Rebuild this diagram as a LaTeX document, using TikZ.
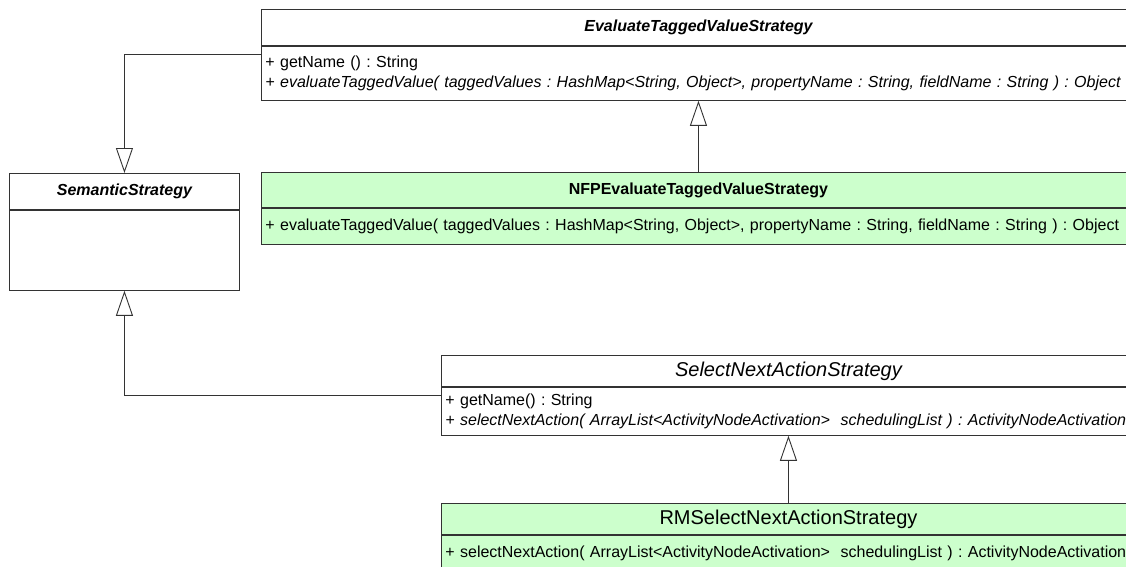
\documentclass[tikz,border=0pt]{standalone}
\usepackage{fontspec}
\setmainfont{Liberation Sans}
\frenchspacing
\usetikzlibrary{
  arrows.meta,
  positioning
}
\definecolor{umlline}{HTML}{333333}
\definecolor{umlgreen}{HTML}{CCFFCC}
\tikzset{
  classhead/.style={
    draw=umlline,
    line width=0.9pt,
    anchor=north west,
    inner sep=0pt,
    minimum height=36pt,
    font=\fontsize{16}{18}\selectfont\bfseries\itshape
  },
  classbody/.style={
    draw=umlline,
    line width=0.9pt,
    inner xsep=4pt,
    inner ysep=0pt,
    align=left,
    text width=#1,
    font=\fontsize{16}{19.5}\selectfont
  },
  concrete/.style={fill=umlgreen},
  inherit/.style={
    -{Triangle[open, length=25pt, width=17pt]},
    draw=umlline,
    line width=0.9pt
  }
}

\begin{document}
\begin{tikzpicture}[x=1pt, y=1pt]
  \useasboundingbox (0,0) rectangle (1126,-567);
  \clip (0,0) rectangle (1126,-567);

  \node[classhead, minimum width=230pt] (semhead) at (9,-173) {SemanticStrategy};
  \node[classbody=222pt, minimum height=80pt, below=0pt of semhead] (sembody) {};

  \node[classhead, minimum width=874pt] (evalhead) at (261,-9)
    {EvaluateTaggedValueStrategy};
  \node[classbody=866pt, minimum height=54pt, below=0pt of evalhead] (evalbody)
    {+ getName () : String\\
     \textit{+ evaluateTaggedValue( taggedValues : HashMap<String, Object>, propertyName : String, fieldName : String ) : Object}};

  \node[classhead, concrete, minimum width=874pt, minimum height=35pt,
        font=\fontsize{16}{18}\selectfont\bfseries] (nfphead) at (261,-172)
    {NFPEvaluateTaggedValueStrategy};
  \node[classbody=866pt, concrete, minimum height=36pt, below=0pt of nfphead] (nfpbody)
    {+ evaluateTaggedValue( taggedValues : HashMap<String, Object>, propertyName : String, fieldName : String ) : Object};

  \node[classhead, minimum width=694pt, minimum height=31pt,
        font=\fontsize{20}{22}\selectfont\itshape] (selhead) at (441,-355)
    {SelectNextActionStrategy};
  \node[classbody=686pt, minimum height=48pt, below=0pt of selhead] (selbody)
    {+ getName() : String\\
     \textit{+ selectNextAction( ArrayList<ActivityNodeActivation>~ schedulingList ) : ActivityNodeActivation}};

  \node[classhead, concrete, minimum width=694pt, minimum height=31pt,
        font=\fontsize{20}{22}\selectfont] (rmhead) at (441,-503)
    {RMSelectNextActionStrategy};
  \node[classbody=686pt, concrete, minimum height=36pt, below=0pt of rmhead] (rmbody)
    {+ selectNextAction( ArrayList<ActivityNodeActivation>~ schedulingList ) : ActivityNodeActivation};

  % generalisations
  \draw[inherit] ([yshift=-9pt]evalbody.north west) -| (semhead.north);
  \draw[inherit] ([yshift=-9pt]selbody.north west) -| (sembody.south);
  \draw[inherit] (nfphead.north) -- (evalbody.south);
  \draw[inherit] (rmhead.north) -- (selbody.south);
\end{tikzpicture}
\end{document}
